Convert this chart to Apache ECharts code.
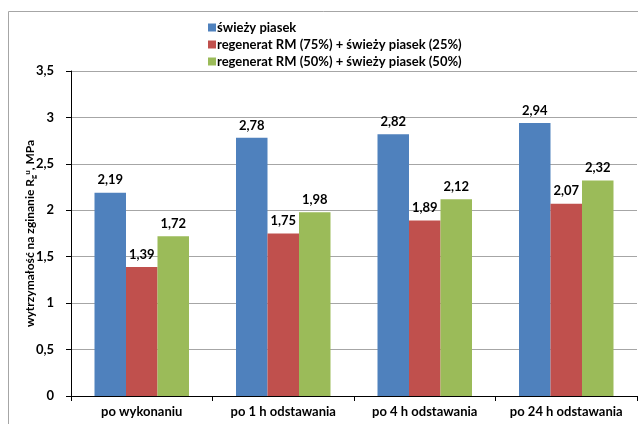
<!DOCTYPE html>
<html>
<head>
<meta charset="utf-8">
<script src="https://cdn.jsdelivr.net/npm/echarts@6/dist/echarts.min.js"></script>
<style>
html, body { margin: 0; padding: 0; background: #fff; }
#chart { width: 638px; height: 424px; }
</style>
</head>
<body>
<div id="chart"></div>
<script>
const categories = ['po wykonaniu', 'po 1 h odstawania', 'po 4 h odstawania', 'po 24 h odstawania'];
const seriesNames = [
  'świeży piasek',
  'regenerat RM (75%) + świeży piasek (25%)',
  'regenerat RM (50%) + świeży piasek (50%)'
];
const freshSand = [2.19, 2.78, 2.82, 2.94];
const rm75 = [1.39, 1.75, 1.89, 2.07];
const rm50 = [1.72, 1.98, 2.12, 2.32];
const yTicks = { min: 0, max: 3.5, step: 0.5 };

const FONT = 'Lato';
const colors = ['#4F81BD', '#C0504D', '#9BBB59'];
const fmt = v => String(v).replace('.', ',');

const chart = echarts.init(document.getElementById('chart'));

function barSeries(name, data, color) {
  return {
    name: name,
    type: 'bar',
    data: data,
    barWidth: 31.5,
    barGap: '0%',
    itemStyle: { color: color },
    label: {
      show: true,
      position: 'top',
      distance: 6,
      formatter: p => fmt(p.value),
      fontFamily: FONT,
      fontWeight: 'bold',
      fontSize: 13,
      color: '#000'
    }
  };
}

chart.setOption({
  animation: false,
  textStyle: { fontFamily: FONT },
  graphic: [{
    type: 'rect',
    shape: { x: 8.5, y: 11.5, width: 640, height: 430 },
    style: { fill: 'none', stroke: '#a6a6a6', lineWidth: 1 },
    silent: true,
    z: -1
  }],
  legend: {
    orient: 'vertical',
    left: 203,
    top: 16,
    itemWidth: 8,
    itemHeight: 8,
    itemGap: 4,
    icon: 'rect',
    data: seriesNames,
    textStyle: { fontFamily: FONT, fontWeight: 'bold', fontSize: 13, color: '#000', padding: [0, 0, 0, -4] }
  },
  grid: { left: 71, right: 1, top: 71, bottom: 28, containLabel: false },
  xAxis: {
    type: 'category',
    data: categories,
    axisLine: { lineStyle: { color: '#000', width: 1 } },
    axisTick: { show: true, length: 5, lineStyle: { color: '#000' } },
    axisLabel: { interval: 0, fontFamily: FONT, fontWeight: 'bold', fontSize: 13, color: '#000', margin: 9 }
  },
  yAxis: {
    type: 'value',
    min: yTicks.min,
    max: yTicks.max,
    interval: yTicks.step,
    name: '{t|wytrzymałość na zginanie R}{sub|g}{sup|u}{t|, MPa}',
    nameLocation: 'middle',
    nameGap: 34,
    nameMoveOverlap: false,
    nameTextStyle: {
      rich: {
        t: { fontFamily: FONT, fontWeight: 'bold', fontSize: 12, color: '#000' },
        sub: { fontFamily: FONT, fontWeight: 'bold', fontSize: 8, color: '#000', verticalAlign: 'bottom', padding: [6, 0, 0, 0] },
        sup: { fontFamily: FONT, fontWeight: 'bold', fontSize: 8, color: '#000', verticalAlign: 'top', padding: [0, 0, 6, 0] }
      }
    },
    axisLine: { show: true, lineStyle: { color: '#000', width: 1 } },
    axisTick: { show: true, length: 5, lineStyle: { color: '#000' } },
    splitLine: { show: true, lineStyle: { color: '#a6a6a6', width: 1 } },
    axisLabel: {
      fontFamily: FONT, fontWeight: 'bold', fontSize: 13, color: '#000', margin: 17,
      formatter: v => fmt(v)
    }
  },
  series: [
    barSeries(seriesNames[0], freshSand, colors[0]),
    barSeries(seriesNames[1], rm75, colors[1]),
    barSeries(seriesNames[2], rm50, colors[2])
  ]
});
</script>
</body>
</html>
